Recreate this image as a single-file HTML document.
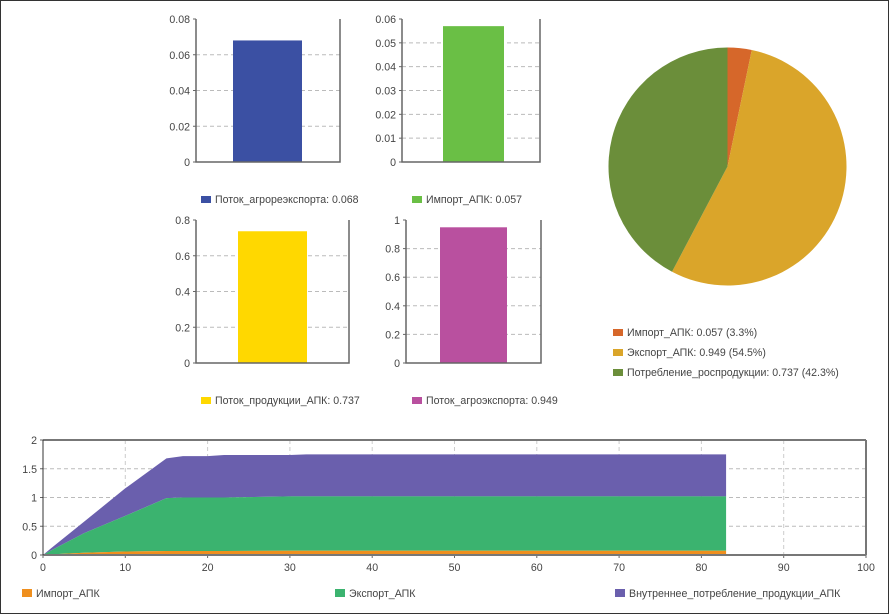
<!DOCTYPE html>
<html><head><meta charset="utf-8"><style>
html,body{margin:0;padding:0;background:#fff}
svg{display:block;font-family:"Liberation Sans",sans-serif;font-size:10.6px}
</style></head><body>
<svg id="c" width="889" height="614" viewBox="0 0 889 614">
<rect x="0.5" y="0.5" width="888" height="613" fill="#fff" stroke="#333"/>
</svg>
<script>
const barNames=["Поток_агрорeэкспорта","Импорт_АПК","Поток_продукции_АПК","Поток_агроэкспорта"];
const barLabels=["Поток_агрорeэкспорта: 0.068","Импорт_АПК: 0.057","Поток_продукции_АПК: 0.737","Поток_агроэкспорта: 0.949"];
const barValues=[0.068,0.057,0.737,0.949];
const barMax=[0.08,0.06,0.8,1];
const barTicks=[["0","0.02","0.04","0.06","0.08"],["0","0.01","0.02","0.03","0.04","0.05","0.06"],["0","0.2","0.4","0.6","0.8"],["0","0.2","0.4","0.6","0.8","1"]];
const pieLabels=["Импорт_АПК: 0.057 (3.3%)","Экспорт_АПК: 0.949 (54.5%)","Потребление_роспродукции: 0.737 (42.3%)"];
const pieValues=[0.057,0.949,0.737];
const areaX=[0,1,5,10,15,17,20,22,30,32,83];
const areaImport=[0,0.01,0.04,0.06,0.07,0.07,0.07,0.07,0.075,0.075,0.075];
const areaExport=[0,0.07,0.34,0.62,0.92,0.93,0.93,0.93,0.945,0.945,0.945];
const areaInternal=[0,0.04,0.2,0.48,0.69,0.72,0.72,0.74,0.72,0.73,0.73];
const areaNames=["Импорт_АПК","Экспорт_АПК","Внутреннее_потребление_продукции_АПК"];
const xTicks=[0,10,20,30,40,50,60,70,80,90,100];
const yTicks=[0,0.5,1,1.5,2];

const svg=document.getElementById('c');
const NS="http://www.w3.org/2000/svg";
function mk(tag,attrs,parent){const e=document.createElementNS(NS,tag);for(const k in attrs)e.setAttribute(k,attrs[k]);(parent||svg).appendChild(e);return e;}
function txt(x,y,s,anchor,parent){const t=mk('text',{x:x,y:y,fill:'#444','text-anchor':anchor||'start'},parent);t.textContent=s;return t;}

const barColors=["#3b50a3","#6abf45","#ffd800","#b9509f"];
const boxes=[{l:196,r:340,t:19,b:162,bl:233,br:302,ly:200,lx:201},{l:402,r:540,t:19,b:162,bl:443,br:504,ly:200,lx:412},{l:196,r:349,t:220,b:363,bl:238,br:307,ly:401,lx:201},{l:406,r:541,t:220,b:363,bl:440,br:507,ly:401,lx:412}];
boxes.forEach((B,i)=>{
  const g=mk('g',{});
  
  
  const ys=v=>B.b-(v/barMax[i])*(B.b-B.t);
  barTicks[i].forEach(tk=>{const y=ys(parseFloat(tk));
    if(parseFloat(tk)>0&&parseFloat(tk)<barMax[i]){const gl=mk('line',{x1:B.l,x2:B.r,y1:y,y2:y,stroke:'#bbb','stroke-dasharray':'4,3'},g);}
    mk('line',{x1:B.l-3,x2:B.l,y1:y,y2:y,stroke:'#666'},g);
    const t=txt(B.l-6,y+4,tk,'end',g);});
  const bar=mk('rect',{x:B.bl,y:ys(barValues[i]),width:B.br-B.bl,height:B.b-ys(barValues[i]),fill:barColors[i]},g);
  
  
  mk('path',{d:`M${B.l},${B.t}V${B.b}H${B.r}V${B.t}`,fill:'none',stroke:'#666','stroke-width':1.5},g);
  const sw=mk('rect',{x:B.lx,y:B.ly-4,width:10,height:7,fill:barColors[i]},g);
  
  const lt=txt(B.lx+14,B.ly+3,barLabels[i],'start',g);
  
});

const pieColors=["#d6672a","#daa52a","#6b8e3a"];
const cx=727.5,cy=166.5,R=119;
const tot=pieValues.reduce((a,b)=>a+b,0);
let ang=-Math.PI/2;
const pg=mk('g',{});
pieValues.forEach((v,i)=>{
  const a2=ang+v/tot*2*Math.PI;
  const large=(a2-ang)>Math.PI?1:0;
  const p=mk('path',{d:`M${cx},${cy}L${cx+R*Math.cos(ang)},${cy+R*Math.sin(ang)}A${R},${R} 0 ${large} 1 ${cx+R*Math.cos(a2)},${cy+R*Math.sin(a2)}Z`,fill:pieColors[i]},pg);
  
  
  ang=a2;
  const ly=333+i*20;
  mk('rect',{x:613,y:ly-4,width:10,height:7,fill:pieColors[i]},pg);
  const t=txt(627,ly+3,pieLabels[i],'start',pg);
  
});

const L=43,Rr=866,T=440,Bt=555;
const xs=v=>L+v/100*(Rr-L), ya=v=>Bt-v/2*(Bt-T);
const ag=mk('g',{});
xTicks.forEach(v=>{const x=xs(v);
  if(v>0&&v<100)mk('line',{x1:x,x2:x,y1:T,y2:Bt,stroke:'#ccc','stroke-dasharray':'4,3'},ag);
  mk('line',{x1:x,x2:x,y1:Bt,y2:Bt+3,stroke:'#666'},ag);
  const t=txt(x,Bt+16,String(v),'middle',ag);});
yTicks.forEach(v=>{const y=ya(v);
  if(v>0&&v<2)mk('line',{x1:L,x2:Rr,y1:y,y2:y,stroke:'#bbb','stroke-dasharray':'4,3'},ag);
  mk('line',{x1:L-3,x2:L,y1:y,y2:y,stroke:'#666'},ag);
  const t=txt(L-6,y+4,String(v),'end',ag);});
const areaColors=["#ef8f1e","#3bb36f","#6a5fad"];
const series=[areaImport,areaExport,areaInternal];
let base=areaX.map(()=>0);
const layers=series.map(s=>{const top=base.map((b,i)=>b+s[i]);const r={lo:base,hi:top};base=top;return r;});
for(let k=layers.length-1;k>=0;k--){
  const {lo,hi}=layers[k];
  let d='M'+areaX.map((x,i)=>xs(x)+','+ya(hi[i])).join('L');
  d+='L'+areaX.slice().reverse().map((x,j)=>{const i=areaX.length-1-j;return xs(x)+','+ya(lo[i]);}).join('L')+'Z';
  const p=mk('path',{d:d,fill:areaColors[k]},ag);
  
  
}
mk('line',{x1:L,x2:Rr,y1:T,y2:T,stroke:'#777','stroke-width':2},ag);
mk('line',{x1:L,x2:Rr,y1:Bt,y2:Bt,stroke:'#777','stroke-width':2},ag);
mk('line',{x1:L,x2:L,y1:T,y2:Bt,stroke:'#333'},ag);
mk('line',{x1:Rr,x2:Rr,y1:T,y2:Bt,stroke:'#777','stroke-width':2},ag);
const lx=[22,335,615];
areaNames.forEach((n,i)=>{
  mk('rect',{x:lx[i],y:589,width:10,height:8,fill:areaColors[i]},ag);
  const t=txt(lx[i]+14,597,n,'start',ag);
  
});
</script>
</body></html>
